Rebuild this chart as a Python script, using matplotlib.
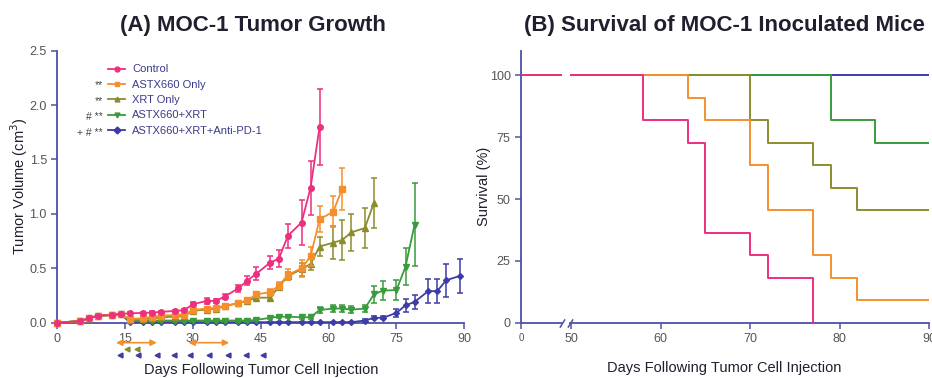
import numpy as np
import matplotlib
matplotlib.use("Agg")
import matplotlib.pyplot as plt
import matplotlib.transforms as mtransforms

plt.rcParams['font.family'] = ['Liberation Sans', 'DejaVu Sans']

# ---- (A) tumor growth data ----
days = [0, 5, 7, 9, 12, 14, 16, 19, 21, 23, 26, 28, 30, 33, 35, 37, 40, 42, 44,
        47, 49, 51, 54, 56, 58, 61, 63, 65, 68, 70, 72, 75, 77, 79, 82, 84, 86, 89]

ctrl = [0, 0.015, 0.04, 0.065, 0.07, 0.08, 0.086, 0.09, 0.093, 0.10, 0.108, 0.114,
        0.17, 0.20, 0.20, 0.24, 0.315, 0.386, 0.45, 0.55, 0.59, 0.80, 0.92, 1.24, 1.80]
ctrl_err = [0, 0.005, 0.01, 0.01, 0.01, 0.01, 0.01, 0.01, 0.01, 0.01, 0.01, 0.01,
            0.02, 0.03, 0.02, 0.02, 0.03, 0.04, 0.06, 0.06, 0.08, 0.11, 0.21, 0.25, 0.35]

astx = [0, 0.015, 0.04, 0.065, 0.07, 0.08, 0.035, 0.04, 0.055, 0.065, 0.07, 0.075,
        0.117, 0.13, 0.135, 0.155, 0.18, 0.205, 0.26, 0.28, 0.34, 0.44, 0.50, 0.61,
        0.95, 1.02, 1.23]
astx_err = [0, 0.005, 0.01, 0.01, 0.01, 0.01, 0.01, 0.01, 0.01, 0.01, 0.01, 0.01,
            0.01, 0.01, 0.01, 0.015, 0.015, 0.02, 0.02, 0.03, 0.03, 0.05, 0.08, 0.09,
            0.12, 0.14, 0.19]

xrt = [0, 0.015, 0.04, 0.065, 0.07, 0.08, 0.025, 0.03, 0.04, 0.05, 0.055, 0.06,
       0.11, 0.12, 0.13, 0.15, 0.18, 0.20, 0.23, 0.23, 0.33, 0.43, 0.49, 0.54,
       0.70, 0.735, 0.76, 0.83, 0.87, 1.10]
xrt_err = [0, 0.005, 0.01, 0.01, 0.01, 0.01, 0.01, 0.01, 0.01, 0.01, 0.01, 0.01,
           0.01, 0.01, 0.01, 0.015, 0.015, 0.02, 0.02, 0.02, 0.03, 0.04, 0.06, 0.06,
           0.09, 0.15, 0.18, 0.17, 0.18, 0.23]

combo = [0, 0.015, 0.04, 0.065, 0.07, 0.08, 0.02, 0.02, 0.02, 0.02, 0.02, 0.02,
         0.02, 0.02, 0.02, 0.02, 0.02, 0.02, 0.025, 0.045, 0.055, 0.055, 0.05, 0.05,
         0.117, 0.13, 0.13, 0.12, 0.13, 0.26, 0.295, 0.30, 0.515, 0.90]
combo_err = [0, 0.005, 0.01, 0.01, 0.01, 0.01, 0.01, 0.01, 0.01, 0.01, 0.01, 0.01,
             0.01, 0.01, 0.01, 0.01, 0.01, 0.01, 0.01, 0.015, 0.015, 0.015, 0.015, 0.015,
             0.03, 0.03, 0.03, 0.03, 0.03, 0.08, 0.085, 0.095, 0.17, 0.38]

triple = [0, 0.015, 0.04, 0.065, 0.07, 0.08] + [0.005] * 22 + \
         [0.02, 0.045, 0.045, 0.09, 0.16, 0.19, 0.29, 0.29, 0.39, 0.43]
triple_err = [0, 0.005, 0.01, 0.01, 0.01, 0.01] + [0.005] * 22 + \
             [0.01, 0.015, 0.015, 0.04, 0.06, 0.065, 0.11, 0.11, 0.15, 0.16]

# treatment schedule under the x axis
astx_arrow_start = [13, 29]
astx_arrow_end = [22, 38]
xrt_days = [15.5, 17.7]
pd1_days = [13.9, 17.9, 22.0, 25.8, 29.3, 33.6, 37.7, 41.7, 45.5]

# ---- (B) survival data ----
surv_ctrl_t = [0, 58, 63, 65, 70, 72, 77]
surv_ctrl = [100, 81.8, 72.7, 36.4, 27.3, 18.2, 0]
surv_astx_t = [0, 63, 65, 70, 72, 77, 79, 82, 90]
surv_astx = [100, 90.9, 81.8, 63.6, 45.5, 27.3, 18.2, 9.1, 9.1]
surv_xrt_t = [0, 70, 72, 77, 79, 82, 90]
surv_xrt = [100, 81.8, 72.7, 63.6, 54.5, 45.5, 45.5]
surv_combo_t = [0, 79, 84, 90]
surv_combo = [100, 81.8, 72.7, 72.7]
surv_triple_t = [0, 90]
surv_triple = [100, 100]

labels = ["Control", "ASTX660 Only", "XRT Only", "ASTX660+XRT", "ASTX660+XRT+Anti-PD-1"]
prefix = ["", "**", "**", "# **", "+ # **"]
colors = ["#ec2f7f", "#f58f2c", "#8b8d2c", "#3a9a3e", "#3d3ca6"]
markers = ["o", "s", "^", "v", "D"]
axcol = "#4f4fa8"
tickcol = "#555555"
dark = "#1f1f2e"

fig = plt.figure(figsize=(9.32, 3.78), dpi=100)
W, H = 932.0, 378.0
bot = 1 - 322.7 / H
hgt = (322.7 - 50.7) / H

def style(ax):
    for s in ["top", "right"]:
        ax.spines[s].set_visible(False)
    for s in ["left", "bottom"]:
        ax.spines[s].set_color(axcol)
        ax.spines[s].set_linewidth(1.3)
    ax.tick_params(colors=axcol, labelcolor=tickcol, labelsize=9, length=4, width=1.1)

# ---------- panel A ----------
ax = fig.add_axes([57.3 / W, bot, (464.3 - 57.3) / W, hgt])
style(ax)
series = [ctrl, astx, xrt, combo, triple]
errs = [ctrl_err, astx_err, xrt_err, combo_err, triple_err]
for i in [4, 3, 2, 1, 0]:
    n = len(series[i])
    ax.errorbar(days[:n], series[i], yerr=errs[i], color=colors[i], marker=markers[i],
                ms=4 if markers[i] != "D" else 3, lw=1.3, elinewidth=1.1, capsize=2.5,
                capthick=1.1, clip_on=False, zorder=3 + (4 - i))
ax.set_xlim(0, 90)
ax.set_ylim(0, 2.5)
ax.set_xticks([0, 15, 30, 45, 60, 75, 90])
ax.set_yticks([0, 0.5, 1.0, 1.5, 2.0, 2.5])
ax.set_yticklabels(["0.0", "0.5", "1.0", "1.5", "2.0", "2.5"])
ax.set_ylabel("Tumor Volume (cm$^3$)", fontsize=10.5, color=dark, labelpad=0)
ax.set_xlabel("Days Following Tumor Cell Injection", fontsize=10.5, color=dark)
ax.xaxis.set_label_coords(0.5, -0.148)
fig.text(253 / W, 1 - 25 / H, "(A) MOC-1 Tumor Growth", fontsize=16,
         fontweight="bold", color=dark, ha="center", va="center")

leg = ax.legend([(plt.Line2D([], [], color=c, marker=m, ms=3.5, lw=1.3))
                 for c, m in zip(colors, markers)], labels,
                loc="upper left", bbox_to_anchor=(0.11, 0.97), frameon=False,
                fontsize=8, labelcolor="#3a3a8c", handlelength=1.6,
                handletextpad=0.6, labelspacing=0.48, borderpad=0)
for i, p in enumerate(prefix):
    if p:
        y = 1 - (69.5 + 15.8 * i - 50.7) / 272.0
        ax.text(0.112, y, p, transform=ax.transAxes, fontsize=7.5, color="#444444",
                ha="right", va="center")

trans = mtransforms.blended_transform_factory(ax.transData, ax.transAxes)
for a, b in zip(astx_arrow_start, astx_arrow_end):
    ax.annotate("", xy=(b, -0.0735), xytext=(a, -0.0735), xycoords=trans, textcoords=trans,
                arrowprops=dict(arrowstyle="<|-|>,head_length=0.35,head_width=0.18",
                                color=colors[1], lw=1.2, shrinkA=0, shrinkB=0))
ax.plot(xrt_days, [-0.098] * len(xrt_days), "<", color=colors[2], ms=3.5,
        transform=trans, clip_on=False)
ax.plot(pd1_days, [-0.119] * len(pd1_days), "<", color=colors[4], ms=3.5,
        transform=trans, clip_on=False)

# ---------- panel B (broken x axis) ----------
axb1 = fig.add_axes([521 / W, bot, (562 - 521) / W, hgt])
axb2 = fig.add_axes([570 / W, bot, (929 - 570) / W, hgt])
surv_t = [surv_ctrl_t, surv_astx_t, surv_xrt_t, surv_combo_t, surv_triple_t]
surv = [surv_ctrl, surv_astx, surv_xrt, surv_combo, surv_triple]
for a in (axb1, axb2):
    style(a)
    for i in [4, 3, 2, 1, 0]:
        a.plot(surv_t[i], surv[i], drawstyle="steps-post", color=colors[i], lw=1.4,
               zorder=3 + (4 - i))
    a.set_ylim(0, 110)
axb1.set_xlim(0, 4.6)
axb1.set_xticks([0])
axb1.set_xticklabels(["0"], fontsize=7)
axb1.set_yticks([0, 25, 50, 75, 100])
axb1.set_ylabel("Survival (%)", fontsize=10.5, color=dark, labelpad=-1)
axb2.set_xlim(49.85, 90)
axb2.set_xticks([50, 60, 70, 80, 90])
axb2.spines["left"].set_visible(False)
axb2.tick_params(axis="y", left=False, labelleft=False)
axb2.set_xlabel("Days Following Tumor Cell Injection", fontsize=10.5, color=dark)
axb2.xaxis.set_label_coords((724 - 570) / (929 - 570), -0.14)
fig.text(724 / W, 1 - 25 / H, "(B) Survival of MOC-1 Inoculated Mice", fontsize=16,
         fontweight="bold", color=dark, ha="center", va="center")

kw = dict(marker=[(-1, -1.6), (1, 1.6)], markersize=6, linestyle="none",
          color=axcol, mec=axcol, mew=1.1, clip_on=False)
axb1.plot([1], [0], transform=axb1.transAxes, **kw)
axb2.plot([0], [0], transform=axb2.transAxes, **kw)

fig.savefig("out.png", dpi=100)
